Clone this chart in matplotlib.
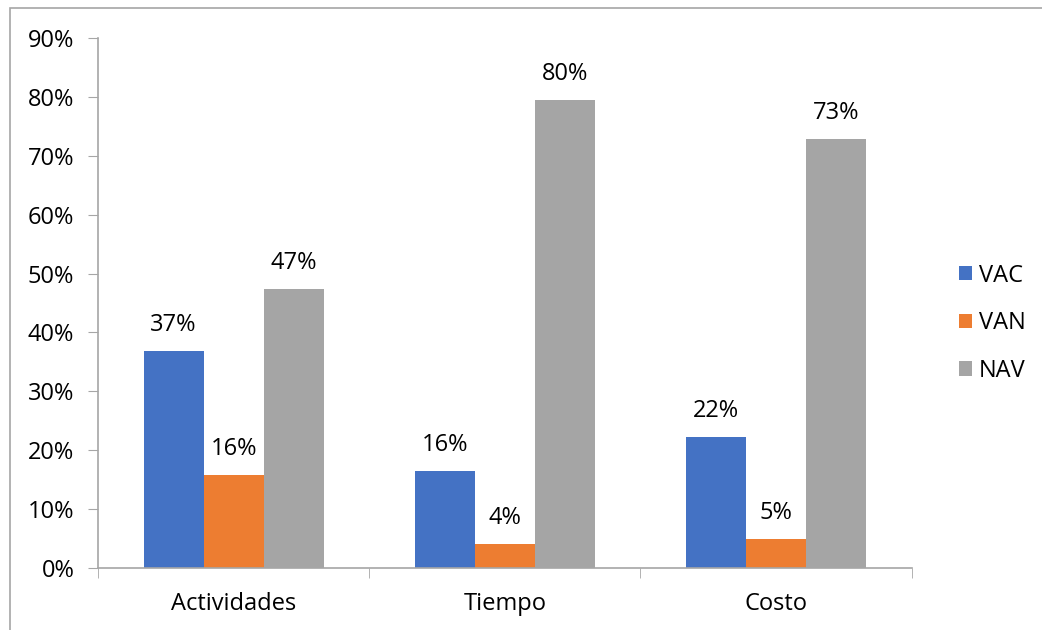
import numpy as np
import matplotlib.pyplot as plt
from matplotlib.patches import Rectangle
from matplotlib.ticker import PercentFormatter

plt.rcParams['font.family'] = ['Open Sans', 'DejaVu Sans']

categorias = ['Actividades', 'Tiempo', 'Costo']
series = ['VAC', 'VAN', 'NAV']
vac = [0.368, 0.165, 0.222]
van = [0.158, 0.041, 0.049]
nav = [0.474, 0.795, 0.728]
colores = ['#4472C4', '#ED7D31', '#A5A5A5']

fig = plt.figure(figsize=(10.42, 6.3), dpi=100)
ax = fig.add_axes([0.094, 0.0984, 0.781, 0.8413])

x = np.arange(len(categorias))
ancho = 0.221
for i, (nombre, vals, col) in enumerate(zip(series, [vac, van, nav], colores)):
    barras = ax.bar(x + (i - 1) * ancho, vals, ancho, color=col, label=nombre)
    ax.bar_label(barras, labels=[f'{v:.0%}' for v in vals], padding=10,
                 fontsize=17, color='#000000')

ax.set_xlim(-0.5, 2.5)
ax.set_ylim(0, 0.9)
ax.set_yticks(np.arange(0, 0.91, 0.1))
ax.yaxis.set_major_formatter(PercentFormatter(1.0, decimals=0))
ax.set_xticks(x)
ax.set_xticklabels(categorias)
ax.set_xticks([-0.5, 0.5, 1.5, 2.5], minor=True)

for s in ['top', 'right']:
    ax.spines[s].set_visible(False)
for s in ['left', 'bottom']:
    ax.spines[s].set_color('#A6A6A6')
    ax.spines[s].set_linewidth(1.2)

ax.tick_params(axis='y', labelsize=17, length=7, color='#A6A6A6', pad=10)
ax.tick_params(axis='x', which='major', labelsize=17, length=0, pad=17)
ax.tick_params(axis='x', which='minor', length=7, color='#A6A6A6')

ax.legend(loc='center left', bbox_to_anchor=(0.9, 0.487), bbox_transform=fig.transFigure,
          frameon=False, fontsize=17, handlelength=0.55, handleheight=0.55,
          handletextpad=0.3, labelspacing=1.0)

# marco exterior del gráfico
fig.patches.append(Rectangle((10 / 1042, -0.1), 1.1, 1.1 - 8 / 630, transform=fig.transFigure,
                             fill=False, edgecolor='#A6A6A6', linewidth=1.2))

fig.savefig('out.png', dpi=100)
